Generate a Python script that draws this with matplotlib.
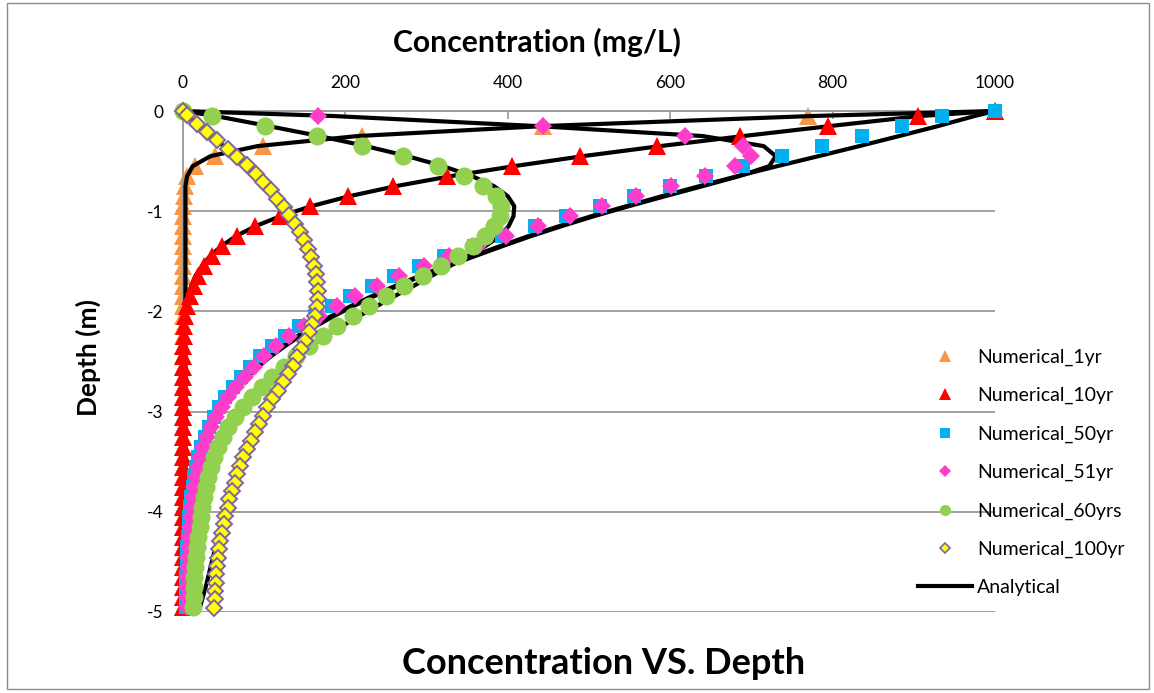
import matplotlib
matplotlib.use("Agg")
import matplotlib.pyplot as plt
from matplotlib.lines import Line2D
from matplotlib.patches import Rectangle

plt.rcParams["font.family"] = ["Lato", "DejaVu Sans"]
plt.rcParams["axes.unicode_minus"] = False

# ---------------- data (depth in m, concentration in mg/L) ----------------
depth = [0, -0.05, -0.15, -0.25, -0.35, -0.45, -0.55, -0.65, -0.75, -0.85, -0.95,
         -1.05, -1.15, -1.25, -1.35, -1.45, -1.55, -1.65, -1.75, -1.85, -1.95,
         -2.05, -2.15, -2.25, -2.35, -2.45, -2.55, -2.65, -2.75, -2.85, -2.95,
         -3.05, -3.15, -3.25, -3.35, -3.45, -3.55, -3.65, -3.75, -3.85, -3.95,
         -4.05, -4.15, -4.25, -4.35, -4.45, -4.55, -4.65, -4.75, -4.85, -4.95]

# the 100-year run uses a finer grid
depth_100 = [0, -0.042, -0.125, -0.208, -0.292, -0.375, -0.458, -0.542, -0.625, -0.708,
             -0.792, -0.875, -0.958, -1.042, -1.125, -1.208, -1.292, -1.375, -1.458,
             -1.542, -1.625, -1.708, -1.792, -1.875, -1.958, -2.042, -2.125, -2.208,
             -2.292, -2.375, -2.458, -2.542, -2.625, -2.708, -2.792, -2.875, -2.958,
             -3.042, -3.125, -3.208, -3.292, -3.375, -3.458, -3.542, -3.625, -3.708,
             -3.792, -3.875, -3.958, -4.042, -4.125, -4.208, -4.292, -4.375, -4.458,
             -4.542, -4.625, -4.708, -4.792, -4.875, -4.958]

num_1yr = [1000, 770, 443, 220, 98, 40, 15, 5, 2, 1] + [0] * 41
num_10yr = [1000, 905, 794, 686, 584, 489, 405, 325, 259, 203, 156, 119, 89, 66, 48, 36,
            26, 19, 14, 9, 5, 3, 1.5, 1] + [0] * 27
num_50yr = [1000, 935, 886, 836, 787, 738, 690, 644, 600, 556, 513, 472, 433, 393, 358, 322,
            291, 260, 233, 206, 184, 162, 143, 125, 109, 95, 82, 71, 61, 52, 44, 38, 32, 27,
            22, 19, 16, 14, 12, 10, 9, 8, 7, 6, 5.5, 5, 4.5, 4, 4, 3.5, 3.5]
num_51yr = [0, 166, 443, 618, 690, 700, 680, 643, 601, 558, 516, 476, 437, 398, 363, 328,
            297, 266, 239, 212, 190, 168, 149, 131, 115, 100, 87, 76, 65, 56, 48, 41, 35, 30,
            25, 21, 18, 16, 14, 12, 10.5, 9.5, 8.5, 7.5, 7, 6.5, 6, 5.5, 5.5, 5, 5]
num_60yr = [0, 36, 101, 165, 220, 271, 314, 346, 369, 386, 392, 390, 383, 372, 357, 339,
            318, 296, 272, 250, 229, 209, 190, 172, 155, 139, 124, 110, 97, 85, 74, 64, 56,
            49, 43, 38, 34, 31, 28, 26, 24, 22, 20.5, 19, 17.5, 16, 15, 14, 13.5, 13, 12.5]
num_100yr = [0, 5, 17, 30, 42, 55, 67, 79, 90, 99, 108, 116, 124, 131, 138, 144, 149.5,
             154, 158, 161.5, 164, 165.5, 166, 166, 165, 162, 159, 155, 150.5, 145.5, 140,
             135, 129, 123, 117, 110, 104, 98.5, 93.5, 88.5, 83.5, 79, 74.5, 70.5, 67, 63.5,
             60.5, 57, 55, 52, 50, 48, 46, 44.5, 43.5, 42, 41, 40.5, 39.5, 39, 38.5]

an_1yr = [1000, 775, 445, 215, 92, 34, 12, 5] + [3] * 43
an_10yr = [1000, 908, 797, 690, 588, 493, 408, 330, 262, 205, 158, 120, 89, 65, 47, 33, 23,
           15, 10, 6, 4, 2.5, 2, 1.5] + [1] * 27
an_50yr = [1000, 975, 930, 882, 833, 783, 732, 683, 636, 590, 546, 503, 463, 425, 390, 356,
           322, 290, 260, 232, 206, 182, 160, 140, 122, 106, 91, 78, 66, 56, 47, 39, 33, 27,
           22, 18, 15, 12, 9.5, 7.5, 6, 4.5, 3.5, 2.7, 2, 1.5, 1.2, 1, 0.8, 0.6, 0.5]
an_51yr = [0, 185, 435, 640, 715, 730, 722, 685, 640, 594, 549, 506, 466, 428, 393, 359,
           325, 293, 263, 235, 209, 185, 163, 143, 125, 108, 93, 80, 68, 58, 49, 41, 34, 28,
           23, 19, 15.5, 12.5, 10, 8, 6.5, 5, 4, 3, 2.3, 1.8, 1.4, 1.1, 0.9, 0.7, 0.6]
an_60yr = [0, 40, 105, 168, 225, 276, 320, 356, 383, 400, 408, 407, 401, 390, 372, 350, 328,
           305, 283, 260, 238, 216, 195, 175, 156, 139, 123, 108, 95, 83, 72, 62, 53, 45, 38,
           32, 27, 23, 19, 16, 13, 11, 9, 7.5, 6, 5, 4, 3.3, 2.8, 2.4, 2]
an_100yr = [0, 6, 20, 35, 50, 64, 78, 91, 102, 112, 121, 130, 138, 145, 151, 156, 160, 162.5,
            164, 164, 163, 160, 156, 151, 145, 139, 132, 125, 118, 110, 103, 96, 90, 84, 78,
            73, 68, 64, 60, 56, 52.5, 49, 46, 43, 40, 37, 34, 31, 28, 24.5, 21]

x_ticks = [0, 200, 400, 600, 800, 1000]
y_ticks = [-5, -4, -3, -2, -1, 0]
labels = ["Numerical_1yr", "Numerical_10yr", "Numerical_50yr", "Numerical_51yr",
          "Numerical_60yrs", "Numerical_100yr", "Analytical"]

# ---------------- figure ----------------
W, H = 1154, 693
fig = plt.figure(figsize=(W / 100, H / 100), dpi=100)
fig.patches.append(Rectangle((7 / W, 4 / H), 1142 / W, 686 / H, transform=fig.transFigure,
                             fill=False, edgecolor="#8C8C8C", lw=1.0))

ax = fig.add_axes([183 / W, 1 - 612 / H, (995 - 183) / W, (612 - 111) / H])
ax.set_xlim(0, 1000)
ax.set_ylim(-5, 0)

gray = "#999999"
ax.set_xticks(x_ticks)
ax.set_yticks(y_ticks)
ax.set_xticklabels([str(v) for v in x_ticks])
ax.set_yticklabels([str(v) for v in y_ticks])
ax.xaxis.tick_top()
ax.tick_params(axis="x", direction="in", length=6, width=1.2, color=gray, pad=14.5,
               labelsize=12.5, labelcolor="black")
ax.tick_params(axis="y", direction="out", length=5, width=1.2, color=gray, pad=9,
               labelsize=12.5, labelcolor="black")
for s in ["right", "bottom"]:
    ax.spines[s].set_visible(False)
for s in ["top", "left"]:
    ax.spines[s].set_color(gray)
    ax.spines[s].set_linewidth(1.3)
ax.yaxis.grid(True, color=gray, lw=1.3)
ax.set_axisbelow(True)

ms_kw = dict(linestyle="none", clip_on=False, markeredgewidth=0)
ax.plot(num_1yr, depth, marker="^", ms=12.5, color="#F79646", zorder=2, **ms_kw)
for an in [an_1yr, an_10yr, an_50yr, an_51yr, an_60yr, an_100yr]:
    ax.plot(an, depth, color="black", lw=3.0, zorder=3, clip_on=False,
            solid_joinstyle="round", solid_capstyle="round")
ax.plot(num_10yr, depth, marker="^", ms=12.5, color="#FF0000", zorder=4, **ms_kw)
ax.plot(num_50yr, depth, marker="s", ms=10.5, color="#00B0F0", zorder=5, **ms_kw)
ax.plot(num_51yr, depth, marker="D", ms=9.2, color="#FF3DCB", zorder=6, **ms_kw)
ax.plot(num_60yr, depth, marker="o", ms=13, color="#92D050", zorder=7, **ms_kw)
ax.plot(num_100yr, depth_100, marker="D", ms=8.3, color="#FFFF00", markeredgecolor="#8064A2",
        markeredgewidth=1.4, linestyle="none", clip_on=False, zorder=8)

# legend
handles = [
    Line2D([], [], marker="^", ms=8, color="#F79646", ls="none", mew=0),
    Line2D([], [], marker="^", ms=8, color="#FF0000", ls="none", mew=0),
    Line2D([], [], marker="s", ms=7, color="#00B0F0", ls="none", mew=0),
    Line2D([], [], marker="D", ms=5.8, color="#FF3DCB", ls="none", mew=0),
    Line2D([], [], marker="o", ms=8, color="#92D050", ls="none", mew=0),
    Line2D([], [], marker="D", ms=5, color="#FFFF00", mec="#8064A2", mew=1.2, ls="none"),
    Line2D([], [], color="black", lw=3.0),
]
fig.legend(handles, labels, loc="upper left", bbox_to_anchor=(918 / W, 1 - 348.5 / H),
           bbox_transform=fig.transFigure, frameon=False, fontsize=14, borderpad=0,
           handlelength=2.8, handletextpad=0.25, labelspacing=1.09, borderaxespad=0)

fig.text(537 / W, 1 - 42 / H, "Concentration (mg/L)", ha="center", va="center",
         fontsize=21.7, fontweight="bold")
fig.text(88 / W, 1 - 358 / H, "Depth (m)", ha="center", va="center", rotation=90,
         fontsize=19, fontweight="bold")
fig.text(604 / W, 1 - 663 / H, "Concentration VS. Depth", ha="center", va="center",
         fontsize=26, fontweight="bold")

fig.savefig("out.png", dpi=100)
